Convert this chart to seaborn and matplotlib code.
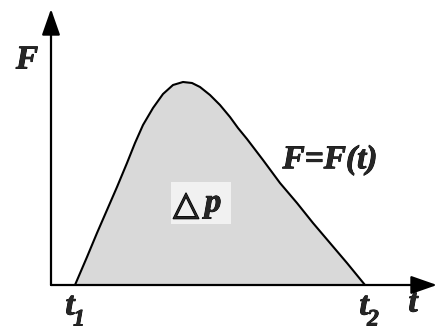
import matplotlib
matplotlib.use("Agg")
import matplotlib.pyplot as plt
import matplotlib.patheffects as pe
import seaborn as sns
import pandas as pd

# Force-time curve F(t) (arbitrary units, origin at the axes corner)
t_vals = [24, 36, 46, 56, 66, 76, 84, 92, 102, 112, 122, 132, 141, 149, 159,
          169, 179, 187, 196, 212, 229, 246, 262, 279, 296, 314]
F_vals = [0, 28, 52, 75, 98, 122, 142, 160, 177, 191, 200, 203, 202, 198, 190,
          180, 168, 157, 146, 125, 102, 82, 62, 42, 22, 0]

axis_labels = ["F", "t"]
time_marks = [("t", "1", 20), ("t", "2", 314)]
curve_label = "F=F(t)"
area_label = ("△", "p")

sns.set_style("white")
df = pd.DataFrame({"t": t_vals, "F": F_vals})

fig = plt.figure(figsize=(4.39, 3.29), dpi=100)
ax = fig.add_axes([0, 0, 1, 1])
ax.set_xlim(-51, 388)
ax.set_ylim(-44, 285)
ax.axis("off")

# Shaded impulse area and the curve
ax.fill_between(df["t"], df["F"], 0, color="#d9d9d9", lw=0, zorder=1)
sns.lineplot(data=df, x="t", y="F", ax=ax, color="black", lw=1.5,
             estimator=None, sort=False, zorder=3)

# Axes with arrowheads
arrow = dict(arrowstyle="-|>,head_length=0.8,head_width=0.28", lw=1.6,
             color="black", mutation_scale=20, shrinkA=0, shrinkB=0)
ax.annotate("", xy=(386, 0), xytext=(0, 0), arrowprops=arrow, zorder=4)
ax.annotate("", xy=(0, 276), xytext=(0, 0), arrowprops=arrow, zorder=4)

font = dict(family="Liberation Serif", weight="bold", style="italic")
heavy = [pe.withStroke(linewidth=0.6, foreground="black")]
ax.text(-24, 225, axis_labels[0], fontsize=24, ha="center", va="center",
        path_effects=heavy, **font)
ax.text(362, -18, axis_labels[1], fontsize=24, ha="center", va="center",
        path_effects=heavy, **font)

for base, sub, x in time_marks:
    ax.text(x - 1, -21, base, fontsize=24, ha="center", va="center",
            path_effects=heavy, **font)
    ax.text(x + 8, -35, sub, fontsize=17, ha="center", va="center",
            path_effects=heavy, **font)

ax.text(279, 125, curve_label, fontsize=24, ha="center", va="center",
        path_effects=heavy, **font)

# Impulse label with a pale backing box
ax.text(150, 82, "     ", fontsize=22, ha="center", va="center",
        bbox=dict(boxstyle="square,pad=0.2", fc="#f1f1f1", ec="none"), zorder=5)
ax.text(135, 80, area_label[0], fontsize=24, ha="center", va="center",
        family="DejaVu Sans", zorder=6,
        path_effects=[pe.withStroke(linewidth=1.0, foreground="black")])
ax.text(162, 82, area_label[1], fontsize=24, ha="center", va="center",
        zorder=6, path_effects=heavy, **font)

fig.savefig("out.png", dpi=100)
